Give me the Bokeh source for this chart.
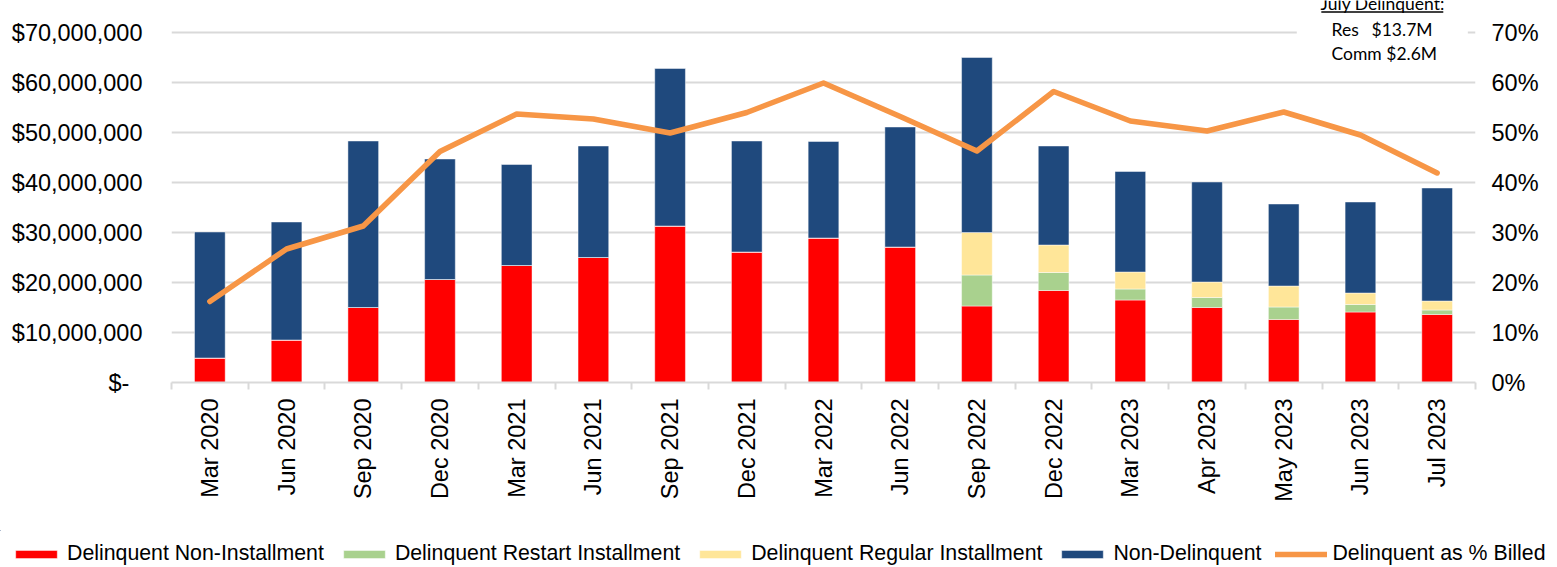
from math import pi
from bokeh.plotting import figure
from bokeh.models import (ColumnDataSource, Range1d, LinearAxis, FixedTicker,
                          NumeralTickFormatter, Legend, LegendItem, Label,
                          BoxAnnotation, Arrow)
from bokeh.embed import file_html
from bokeh.resources import INLINE

months = ["Mar 2020", "Jun 2020", "Sep 2020", "Dec 2020", "Mar 2021", "Jun 2021",
          "Sep 2021", "Dec 2021", "Mar 2022", "Jun 2022", "Sep 2022", "Dec 2022",
          "Mar 2023", "Apr 2023", "May 2023", "Jun 2023", "Jul 2023"]

# values in $ millions
non_installment = [4.9, 8.5, 15.0, 20.6, 23.4, 25.0, 31.3, 26.1, 28.9, 27.1,
                   15.3, 18.4, 16.5, 15.0, 12.6, 14.1, 13.6]
restart_installment = [0, 0, 0, 0, 0, 0, 0, 0, 0, 0,
                       6.2, 3.6, 2.2, 2.0, 2.5, 1.5, 0.9]
regular_installment = [0, 0, 0, 0, 0, 0, 0, 0, 0, 0,
                       8.5, 5.5, 3.4, 3.1, 4.2, 2.3, 1.8]
non_delinquent = [25.2, 23.6, 33.3, 24.1, 20.2, 22.3, 31.5, 22.2, 19.3, 24.0,
                  35.0, 19.8, 20.1, 20.0, 16.4, 18.2, 22.6]
pct_billed = [16.2, 26.7, 31.3, 46.2, 53.7, 52.7, 49.9, 54.0, 59.9, 53.2,
              46.3, 58.2, 52.3, 50.3, 54.1, 49.5, 41.9]

left_ticks = [0, 10, 20, 30, 40, 50, 60, 70]       # $ millions
right_ticks = [0, 10, 20, 30, 40, 50, 60, 70]      # percent

series = ["Delinquent Non-Installment", "Delinquent Restart Installment",
          "Delinquent Regular Installment", "Non-Delinquent"]
line_series = "Delinquent as % Billed"
colors = ["#FF0000", "#A9D18E", "#FFE699", "#1F497D"]
line_color = "#F79646"

M = 1e6
n = len(months)
xs = [i + 0.5 for i in range(n)]
src = ColumnDataSource(dict(
    x=xs,
    s0=[v * M for v in non_installment],
    s1=[v * M for v in restart_installment],
    s2=[v * M for v in regular_installment],
    s3=[v * M for v in non_delinquent],
    pct=[v / 100 for v in pct_billed],
))
stackers = ["s0", "s1", "s2", "s3"]

FONT = "Liberation Sans, Arial, sans-serif"
GRID = "#D9D9D9"
TOP = 76.4  # headroom above the 70M gridline for the note
W, H1, H2 = 1557, 530, 37

p = figure(width=W, height=H1, output_backend="svg", toolbar_location=None,
           x_range=Range1d(0, n), y_range=Range1d(0, TOP * M),
           min_border_left=171, min_border_right=82, min_border_top=0,
           min_border_bottom=148, x_axis_location=None, y_axis_location=None)
p.outline_line_color = None
p.background_fill_color = "white"
p.border_fill_color = "white"
p.extra_y_ranges = {"pct": Range1d(0, TOP / 100)}

bars = p.vbar_stack(stackers, x="x", width=0.4, color=colors,
                    line_color="white", line_alpha=0.45, line_width=1, source=src)
ln = p.line("x", "pct", source=src, y_range_name="pct", line_color=line_color,
            line_width=5.5, line_cap="round", line_join="round")

# axes
xaxis = LinearAxis(ticker=FixedTicker(ticks=xs, minor_ticks=list(range(n + 1))))
xaxis.major_label_overrides = {x: m for x, m in zip(xs, months)}
xaxis.major_label_orientation = pi / 2
xaxis.major_tick_out = 0
xaxis.major_tick_in = 0
xaxis.minor_tick_out = 7
xaxis.minor_tick_in = 0
xaxis.minor_tick_line_color = GRID
xaxis.minor_tick_line_width = 2
xaxis.axis_line_color = GRID
xaxis.axis_line_width = 2
xaxis.major_label_standoff = 9
xaxis.major_label_text_font = FONT
xaxis.major_label_text_font_size = "23.5px"
xaxis.major_label_text_color = "black"
p.add_layout(xaxis, "below")

yaxis = LinearAxis(ticker=FixedTicker(ticks=[t * M for t in left_ticks]),
                   formatter=NumeralTickFormatter(format="$0,0"))
yaxis.major_label_overrides = {0: "$-\u00a0\u00a0"}
yaxis.axis_line_color = None
yaxis.major_tick_line_color = None
yaxis.minor_tick_line_color = None
yaxis.major_tick_out = 0
yaxis.major_label_standoff = 29
yaxis.major_label_text_font = FONT
yaxis.major_label_text_font_size = "23.5px"
yaxis.major_label_text_color = "black"
p.add_layout(yaxis, "left")

raxis = LinearAxis(y_range_name="pct", ticker=FixedTicker(ticks=[t / 100 for t in right_ticks]),
                   formatter=NumeralTickFormatter(format="0%"))
raxis.axis_line_color = None
raxis.major_tick_line_color = None
raxis.minor_tick_line_color = None
raxis.major_tick_out = 0
raxis.major_label_standoff = 16
raxis.major_label_text_font = FONT
raxis.major_label_text_font_size = "23.5px"
raxis.major_label_text_color = "black"
p.add_layout(raxis, "right")

p.ygrid.ticker = FixedTicker(ticks=[t * M for t in left_ticks])
p.ygrid.grid_line_color = GRID
p.ygrid.grid_line_width = 2
p.xgrid.grid_line_color = None

# note box (top right)
cover = BoxAnnotation(left=14.67, right=16.90, bottom=63.6 * M, top=TOP * M,
                      fill_color="white", fill_alpha=1.0, line_color=None)
p.add_layout(cover)
NOTE_FONT = "Lato, Carlito, sans-serif"
p.add_layout(Label(x=15.79, y=75.9 * M, text="July Delinquent:", text_align="center",
                   text_baseline="alphabetic", text_font=NOTE_FONT,
                   text_font_size="17.5px", text_color="black"))
p.add_layout(Arrow(x_start=14.99, y_start=74.1 * M, x_end=16.58, y_end=74.1 * M,
                   end=None, line_color="black", line_width=1.3))
p.add_layout(Label(x=15.123, y=70.7 * M, text="Res", text_align="left",
                   text_baseline="alphabetic", text_font=NOTE_FONT,
                   text_font_size="17.5px", text_color="black"))
p.add_layout(Label(x=16.44, y=70.7 * M, text="$13.7M", text_align="right",
                   text_baseline="alphabetic", text_font=NOTE_FONT,
                   text_font_size="17.5px", text_color="black"))
p.add_layout(Label(x=15.123, y=65.8 * M, text="Comm $2.6M", text_align="left",
                   text_baseline="alphabetic", text_font=NOTE_FONT,
                   text_font_size="17.5px", text_color="black"))

# legend strip below the chart (same series, drawn outside its visible ranges)
q = figure(width=W, height=H2, output_backend="svg", toolbar_location=None,
           x_range=Range1d(n + 1, n + 2), y_range=Range1d(-2, -1), min_border=0,
           min_border_left=0, min_border_right=0, min_border_top=0,
           min_border_bottom=0, x_axis_location=None, y_axis_location=None)
q.outline_line_color = None
q.xgrid.grid_line_color = None
q.ygrid.grid_line_color = None
proxies = q.vbar_stack(stackers, x="x", width=0.4, color=colors,
                       line_color="white", line_alpha=0.45, line_width=1, source=src)
proxy_line = q.line("x", "pct", source=src, line_color=line_color,
                    line_width=5.5, line_cap="round")
items = [LegendItem(label=series[i], renderers=[proxies[i]]) for i in range(4)]
items.append(LegendItem(label=line_series, renderers=[proxy_line]))
legend = Legend(items=items, orientation="horizontal", location=(10, 1),
                padding=0, margin=0, spacing=14, label_standoff=5,
                glyph_width=52, glyph_height=10, border_line_color=None,
                background_fill_alpha=0, label_text_font=FONT,
                label_text_font_size="21.3px", label_text_color="black")
q.add_layout(legend)

open("out.html", "w").write(file_html([p, q], INLINE))
